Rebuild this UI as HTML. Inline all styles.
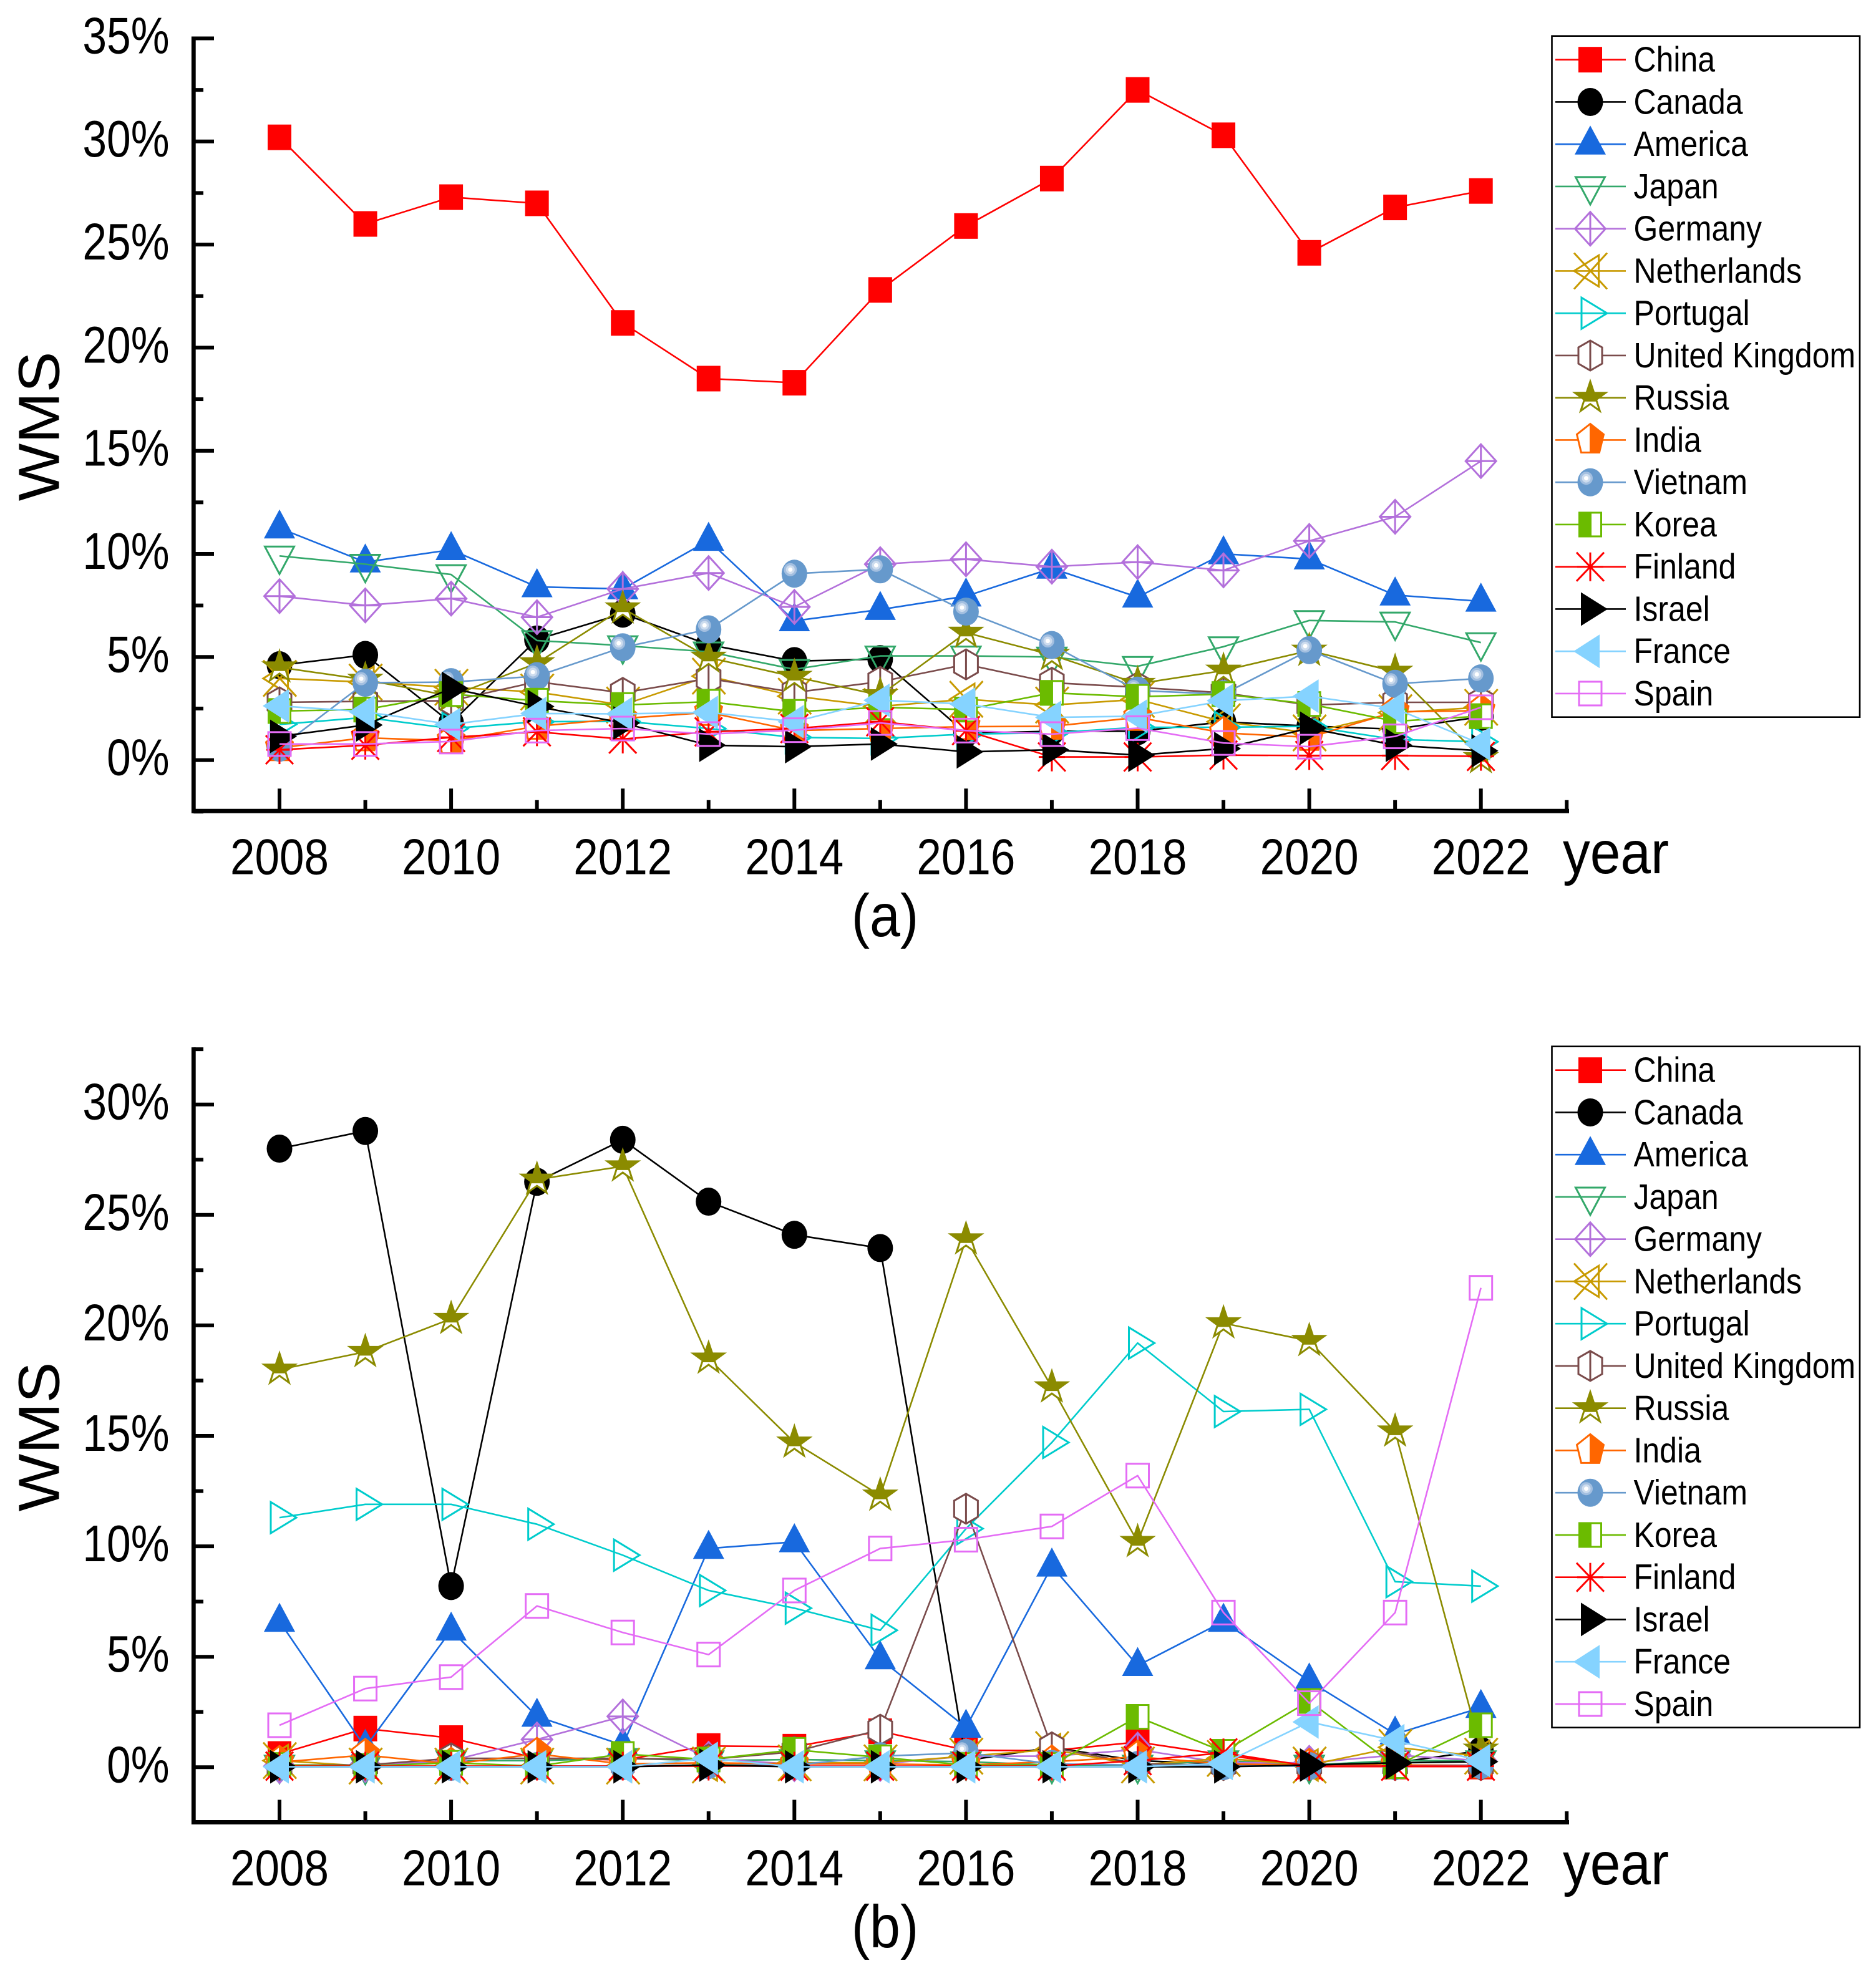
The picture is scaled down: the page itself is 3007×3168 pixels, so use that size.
<!DOCTYPE html>
<html lang="en">
<head>
<meta charset="utf-8">
<title>WMS by country, 2008-2022</title>
<style>
html,body{margin:0;padding:0;background:#fff;}
svg{display:block;}
text{font-family:"Liberation Sans",Arial,sans-serif;fill:#000;}
</style>
</head>
<body>
<svg id="chart" xmlns="http://www.w3.org/2000/svg" width="3007" height="3168" viewBox="0 0 3007 3168"></svg>
<script>
// ---- data ----
const years = [2008,2009,2010,2011,2012,2013,2014,2015,2016,2017,2018,2019,2020,2021,2022];
const xTickYears = [2008,2009,2010,2011,2012,2013,2014,2015,2016,2017,2018,2019,2020,2021,2022,2023];
const yTicksA = [-2.5,0,2.5,5,7.5,10,12.5,15,17.5,20,22.5,25,27.5,30,32.5,35];
const yTicksB = [-2.5,0,2.5,5,7.5,10,12.5,15,17.5,20,22.5,25,27.5,30,32.5];
const seriesNames = ["China","Canada","America","Japan","Germany","Netherlands","Portugal","United Kingdom","Russia","India","Vietnam","Korea","Finland","Israel","France","Spain"];

// panel (a)
const chinaA = [30.2,26.0,27.3,27.0,21.2,18.5,18.3,22.8,25.9,28.2,32.5,30.3,24.6,26.8,27.6];
const canadaA = [4.6,5.1,1.8,5.85,7.1,5.6,4.8,4.9,1.3,1.4,1.4,1.85,1.65,1.5,2.1];
const americaA = [11.25,9.6,10.2,8.4,8.3,10.65,6.75,7.3,7.95,9.3,7.9,10.0,9.75,8.0,7.7];
const japanA = [9.9,9.5,9.0,5.8,5.55,5.25,4.4,5.05,5.05,5.0,4.55,5.5,6.77,6.7,5.7];
const germanyA = [7.95,7.5,7.83,6.93,8.3,9.07,7.43,9.5,9.74,9.38,9.6,9.2,10.63,11.8,14.5];
const netherlandsA = [3.96,3.78,3.53,3.3,2.67,4.07,3.1,2.6,2.95,2.67,2.94,1.86,1.32,2.3,2.56];
const portugalA = [1.73,2.07,1.53,1.86,1.88,1.53,1.1,1.05,1.26,1.32,1.59,1.59,1.64,1.0,0.89];
const ukA = [2.8,2.85,2.88,3.8,3.26,3.96,3.28,3.8,4.64,3.75,3.53,3.26,2.67,2.8,2.8];
const russiaA = [4.5,3.9,3.1,4.7,7.36,4.97,4.04,3.15,6.18,5.1,3.7,4.34,5.31,4.29,0.1];
const indiaA = [0.6,1.08,0.94,1.64,2.02,2.31,1.43,1.53,1.62,1.64,2.07,1.32,1.1,2.34,2.4];
const vietnamA = [0.6,3.75,3.78,4.07,5.47,6.34,9.04,9.25,7.2,5.58,3.37,3.2,5.33,3.7,3.96];
const koreaA = [2.38,2.45,3.2,2.88,2.67,2.83,2.34,2.56,2.45,3.26,3.07,3.2,2.72,1.88,2.13];
const finlandA = [0.5,0.72,1.1,1.37,1.02,1.37,1.53,1.86,1.43,0.15,0.15,0.24,0.22,0.22,0.18];
const israelA = [1.15,1.7,3.48,2.6,1.8,0.72,0.65,0.78,0.4,0.5,0.24,0.56,1.55,0.72,0.45];
const franceA = [2.63,2.34,1.73,2.26,2.24,2.31,1.86,2.9,2.72,2.07,2.13,2.88,3.1,2.5,0.78];
const spainA = [0.78,0.78,0.9,1.43,1.53,1.26,1.45,1.8,1.43,1.26,1.55,0.83,0.65,1.15,2.56];

// panel (b)
const chinaB = [0.6,1.75,1.32,0.4,0.33,0.96,0.93,1.63,0.77,0.75,1.14,0.56,0.03,0.03,0.03];
const canadaB = [28.0,28.8,8.2,26.5,28.4,25.6,24.1,23.5,0.3,0.9,0.3,0.15,0.1,0.2,0.75];
const americaB = [6.6,0.9,6.2,2.3,1.0,9.9,10.2,4.9,1.8,9.1,4.6,6.6,3.9,1.5,2.7];
const japanB = [0.1,0.05,0.3,0.3,0.4,0.3,0.35,0.3,0.25,0.1,0.1,0.3,0.1,0.3,0.3];
const germanyB = [0.05,0.1,0.3,1.26,2.3,0.38,0.14,0.15,0.5,0.5,0.8,0.2,0.2,0.55,0.3];
const netherlandsB = [0.3,0.05,0.05,0.05,0.05,0.1,0.2,0.2,0.5,0.8,0.1,0.4,0.1,0.9,0.5];
const portugalB = [11.3,11.9,11.9,11.0,9.6,8.0,7.2,6.2,10.8,14.7,19.2,16.1,16.2,8.4,8.2];
const ukB = [0.1,0.1,0.4,0.4,0.4,0.35,0.7,1.7,11.7,0.9,0.15,0.1,0.1,0.1,0.1];
const russiaB = [18.0,18.8,20.3,26.6,27.2,18.5,14.7,12.3,23.9,17.2,10.2,20.1,19.3,15.2,0.8];
const indiaB = [0.23,0.55,0.15,0.6,0.15,0.2,0.15,0.15,0.1,0.25,0.47,0.15,0.1,0.1,0.1];
const vietnamB = [0.02,0.02,0.02,0.05,0.05,0.1,0.1,0.5,0.65,0.15,0.1,0.05,0.05,0.05,0.1];
const koreaB = [0.1,0.05,0.2,0.05,0.6,0.35,0.79,0.45,0.1,0.1,2.28,0.7,3.0,0.05,1.9];
const finlandB = [0.05,0.05,0.05,0.05,0.05,0.05,0.05,0.05,0.05,0.05,0.3,0.65,0.05,0.05,0.05];
const israelB = [0.02,0.02,0.02,0.02,0.02,0.1,0.02,0.02,0.02,0.02,0.02,0.02,0.1,0.2,0.25];
const franceB = [0.02,0.02,0.02,0.02,0.02,0.4,0.02,0.02,0.02,0.02,0.02,0.17,2.05,1.2,0.3];
const spainB = [1.9,3.56,4.08,7.3,6.1,5.1,8.0,9.9,10.3,10.9,13.2,7.0,2.9,7.0,21.7];

const seriesValuesA = [chinaA,canadaA,americaA,japanA,germanyA,netherlandsA,portugalA,ukA,russiaA,indiaA,vietnamA,koreaA,finlandA,israelA,franceA,spainA];
const seriesValuesB = [chinaB,canadaB,americaB,japanB,germanyB,netherlandsB,portugalB,ukB,russiaB,indiaB,vietnamB,koreaB,finlandB,israelB,franceB,spainB];

// ---- styles ----
const seriesColors = ["#ff0000","#000000","#1869de","#33a86a","#b370db","#c89a00","#00cccc","#7a4b4b","#8b8b00","#ff6600","#6699cc","#6bbb00","#ff0000","#000000","#85d3ff","#e46cf5"];
const seriesMarkers = ["square","circle","up","down","diamond","xtri","right","hex","star","pent","sphere","halfsq","aster","rightfill","leftfill","open"];

// ---- helpers ----
const NS = "http://www.w3.org/2000/svg";
const root = document.getElementById("chart");
function mk(tag, parent, attrs){
  const e = document.createElementNS(NS, tag);
  for(const k in attrs){ e.setAttribute(k, attrs[k]); }
  parent.appendChild(e);
  return e;
}
function poly(g, pts, cx, cy, fill, stroke, sw){
  const s = pts.map(p => (cx+p[0]).toFixed(1)+","+(cy+p[1]).toFixed(1)).join(" ");
  return mk("polygon", g, {points:s, fill:fill, stroke:stroke, "stroke-width":sw, "stroke-linejoin":"miter"});
}
function seg(g, x1,y1,x2,y2, c, sw){
  return mk("line", g, {x1:x1,y1:y1,x2:x2,y2:y2,stroke:c,"stroke-width":sw});
}
function drawMarker(g, type, cx, cy, c){
  const sw = 3;
  if(type==="square"){ mk("rect", g, {x:cx-19,y:cy-20.5,width:38,height:41,fill:c}); }
  else if(type==="circle"){ mk("ellipse", g, {cx:cx,cy:cy,rx:20.5,ry:22.5,fill:c}); }
  else if(type==="up"){ poly(g,[[0,-30],[25,16.6],[-25,16.6]],cx,cy,c,"none",0); }
  else if(type==="down"){ poly(g,[[-23.5,-15],[23.5,-15],[0,29]],cx,cy,"none",c,sw); }
  else if(type==="diamond"){
    poly(g,[[0,-27],[24.5,0],[0,27],[-24.5,0]],cx,cy,"none",c,sw);
    seg(g,cx,cy-27,cx,cy+27,c,sw);
    seg(g,cx-24.5,cy,cx+24.5,cy,c,sw);
  }
  else if(type==="xtri"){
    seg(g,cx-26,cy-29,cx+27,cy+29,c,sw);
    seg(g,cx-26,cy+29,cx+27,cy-29,c,sw);
    poly(g,[[-26,0],[13.6,-25],[13.6,25]],cx,cy,"none",c,sw);
  }
  else if(type==="right"){ poly(g,[[-14,-25],[27,0],[-14,25]],cx,cy,"none",c,sw); }
  else if(type==="hex"){
    poly(g,[[0,-24],[19,-13],[19,13],[0,24],[-19,13],[-19,-13]],cx,cy,"#fff",c,sw);
    seg(g,cx,cy-24,cx,cy+24,c,sw);
  }
  else if(type==="star"){
    poly(g,[[0,-26],[5.9,-8.1],[24.7,-8],[9.5,3.1],[15.3,21],[0,10],[-15.3,21],[-9.5,3.1],[-24.7,-8],[-5.9,-8.1]],cx,cy,"#fff",c,sw);
    poly(g,[[0,-26],[5.9,-8.1],[24.7,-8],[9.5,3.1],[10.5,6],[-10.5,6],[-9.5,3.1],[-24.7,-8],[-5.9,-8.1]],cx,cy,c,"none",0);
  }
  else if(type==="pent"){
    poly(g,[[0,-26],[21.5,-9],[14.5,20],[-14.5,20],[-21.5,-9]],cx,cy,"#fff",c,sw);
    poly(g,[[-1,-26],[21.5,-9],[14.5,20],[-1,20]],cx,cy,c,"none",0);
  }
  else if(type==="sphere"){
    mk("ellipse", g, {cx:cx,cy:cy,rx:20.5,ry:22.5,fill:c});
    mk("circle", g, {cx:cx-6.5,cy:cy-6.5,r:10.5,fill:"#a3bfe0"});
    mk("circle", g, {cx:cx-6.5,cy:cy-6.5,r:7,fill:"#cddcee"});
    mk("circle", g, {cx:cx-6.5,cy:cy-6.5,r:3.5,fill:"#ffffff"});
  }
  else if(type==="halfsq"){
    mk("rect", g, {x:cx-17.5,y:cy-19,width:35,height:38,fill:"#fff",stroke:c,"stroke-width":sw});
    mk("rect", g, {x:cx-19,y:cy-20.5,width:21,height:41,fill:c});
  }
  else if(type==="aster"){
    seg(g,cx,cy-23,cx,cy+23,c,sw);
    seg(g,cx-21,cy,cx+21,cy,c,sw);
    seg(g,cx-22,cy-23,cx+22,cy+23,c,sw);
    seg(g,cx-22,cy+23,cx+22,cy-23,c,sw);
  }
  else if(type==="rightfill"){ poly(g,[[-15,-27],[28,0],[-15,27]],cx,cy,c,"none",0); }
  else if(type==="leftfill"){ poly(g,[[-27,0],[15,-27],[15,27]],cx,cy,c,"none",0); }
  else if(type==="open"){ mk("rect", g, {x:cx-18,y:cy-19,width:36,height:38,fill:"none",stroke:c,"stroke-width":sw}); }
}
function stretchedText(parent, str, x, y, size, sy, anchor, rot){
  const t = mk("text", parent, {
    transform:"translate("+x+","+y+")"+(rot?" rotate("+rot+")":"")+" scale(1,"+sy+")",
    "font-size":size,
    "text-anchor":anchor
  });
  t.textContent = str;
  return t;
}

// ---- axis functions ----
const xLeft = 310.3, xRight = 2515;
function xScale(year){ return 448 + (year - years[0]) * 137.55; }
function yScaleA(v){ return 1218.6 - v * 33.06; }
function yScaleB(v){ return 2833.3 - v * 35.42; }

function drawPanel(key, values, yScale, yTicks, axisBottom, labelShift, caption){
  const g = mk("g", root, {});
  
  

  // series
  seriesNames.forEach(function(name, i){
    const color = seriesColors[i];
    const sg = mk("g", g, {});
    
    
    const pts = values[i].map(function(v, j){ return xScale(years[j]).toFixed(1)+","+yScale(v).toFixed(1); }).join(" ");
    const line = mk("polyline", sg, {points:pts, fill:"none", stroke:color, "stroke-width":2.6, "stroke-linejoin":"round"});
    
    
    values[i].forEach(function(v, j){
      const m = mk("g", sg, {});
      
      
      drawMarker(m, seriesMarkers[i], xScale(years[j]), yScale(v), color);
    });
  });

  // axes
  const top = yScale(yTicks[yTicks.length-1]);
  const yAxis = mk("line", g, {x1:xLeft,y1:top-3,x2:xLeft,y2:axisBottom+3.5,stroke:"#000","stroke-width":6.8});
  
  
  const xAxis = mk("line", g, {x1:xLeft-3,y1:axisBottom,x2:xRight,y2:axisBottom,stroke:"#000","stroke-width":7});
  
  

  yTicks.forEach(function(v){
    const major = v % 5 === 0;
    const y = yScale(v);
    const tick = mk("line", g, {x1:xLeft,y1:y,x2:major?343:326,y2:y,stroke:"#000","stroke-width":6});
    
    
    if(major && v >= 0){
      const lab = stretchedText(g, v + "%", 271.5, y + 24, 69.5, 1.19, "end");
      
      
    }
  });
  xTickYears.forEach(function(yr){
    const major = yr % 2 === 0;
    const x = xScale(yr);
    const tick = mk("line", g, {x1:x,y1:axisBottom,x2:x,y2:axisBottom-(major?36:17.5),stroke:"#000","stroke-width":6});
    
    
    if(major){
      const lab = stretchedText(g, String(yr), x, 1401.5 + labelShift, 71, 1.14, "middle");
      
      
    }
  });

  // titles
  const yTitle = stretchedText(g, "WMS", 94.5, 683.5 + (labelShift ? 1620 : 0), 98, 0.95, "middle", -90);
  
  
  const xTitle = stretchedText(g, "year", 2505, 1400 + labelShift, 87.5, 1.1, "start");
  
  
  const cap = stretchedText(g, caption, 1418.5, 1501 + labelShift, 88, 1.1, "middle");
  
  

  // legend
  const legendTop = 57.7 + (labelShift ? 1620 : 0);
  const lg = mk("g", g, {});
  
  
  mk("rect", lg, {x:2487.5,y:legendTop,width:493.5,height:1092,fill:"#fff",stroke:"#000","stroke-width":2.6});
  seriesNames.forEach(function(name, i){
    const cy = legendTop + 38 + i * 67.75;
    const en = mk("g", lg, {});
    
    
    mk("line", en, {x1:2493,y1:cy,x2:2606,y2:cy,stroke:seriesColors[i],"stroke-width":2.6});
    drawMarker(en, seriesMarkers[i], 2549, cy, seriesColors[i]);
    stretchedText(en, name, 2618.5, cy + 18.8, 50, 1.13, "start");
  });
}

mk("rect", root, {x:0,y:0,width:3007,height:3168,fill:"#fff"});
drawPanel("a", seriesValuesA, yScaleA, yTicksA, 1300.3, 0, "(a)");
drawPanel("b", seriesValuesB, yScaleB, yTicksB, 2921.5, 1621, "(b)");
</script>
</body>
</html>
